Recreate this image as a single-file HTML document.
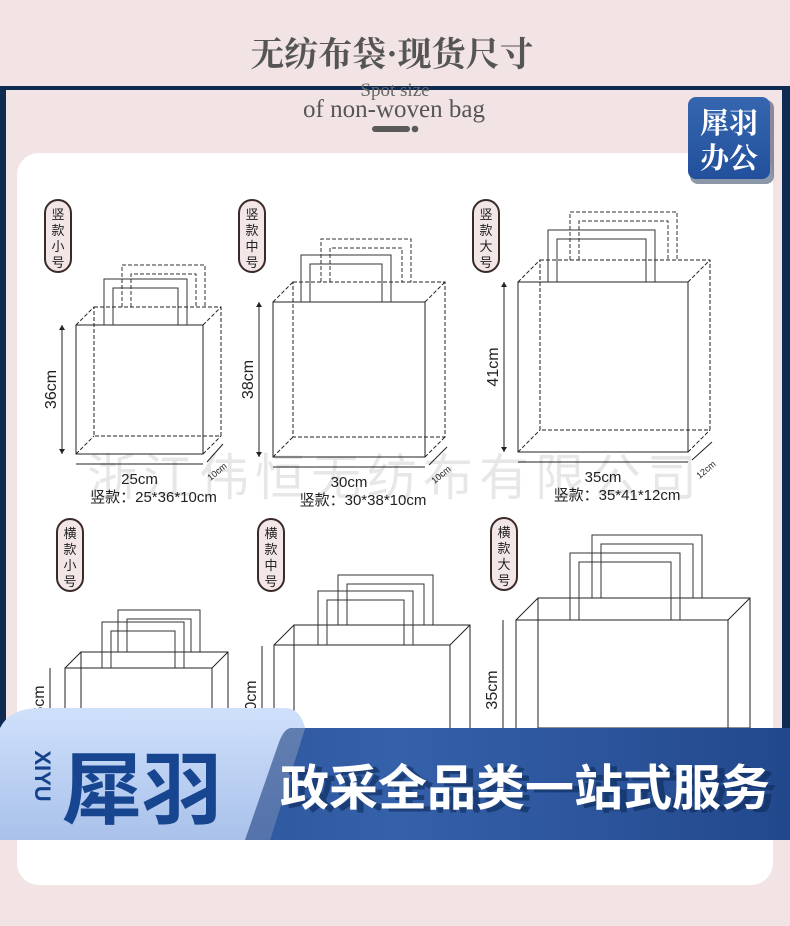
<!DOCTYPE html>
<html><head><meta charset="utf-8"><style>
body{margin:0;width:790px;height:926px;overflow:hidden;background:#f2e4e4;font-family:"Liberation Sans","Noto Sans CJK SC",sans-serif}
</style></head><body>
<svg id="s" width="790" height="926" viewBox="0 0 790 926" xmlns="http://www.w3.org/2000/svg" style="position:absolute;left:0;top:0">
<defs>
<linearGradient id="bl" x1="0" y1="0" x2="1" y2="0"><stop offset="0" stop-color="#234a8e"/><stop offset="0.5" stop-color="#3561aa"/><stop offset="1" stop-color="#22488c"/></linearGradient>
<linearGradient id="lt" x1="0" y1="0" x2="0" y2="1"><stop offset="0" stop-color="#cfe0fb"/><stop offset="1" stop-color="#a9c1ea"/></linearGradient>
<linearGradient id="bd" x1="0" y1="0" x2="0" y2="1"><stop offset="0" stop-color="#3766b0"/><stop offset="1" stop-color="#22509c"/></linearGradient>
</defs>
<rect x="0" y="0" width="790" height="926" fill="#f2e4e4"/>
<rect x="0" y="86" width="790" height="754" fill="#0f2b52"/>
<rect x="6" y="90" width="776" height="760" fill="#f2e4e4"/>
<rect x="17" y="153" width="756" height="732" rx="22" fill="#fff"/>
<text x="392" y="66" text-anchor="middle" font-family="'Noto Serif CJK SC',serif" font-size="34" font-weight="bold" fill="#555">无纺布袋·现货尺寸</text>
<text x="395" y="96" text-anchor="middle" font-family="'Liberation Serif',serif" font-size="19" fill="#666">Spot size</text>
<text x="394" y="117" text-anchor="middle" font-family="'Liberation Serif',serif" font-size="25" fill="#555">of non-woven bag</text>
<rect x="372" y="126" width="38" height="6" rx="3" fill="#5a5a5a"/><circle cx="415" cy="129" r="3.3" fill="#5a5a5a"/>
<rect x="690" y="100" width="84" height="84" rx="8" fill="#1b2f55" opacity="0.5"/>
<rect x="688" y="97" width="82" height="82" rx="8" fill="url(#bd)"/>
<text x="729" y="133" text-anchor="middle" font-family="'Noto Serif CJK SC',serif" font-size="29" font-weight="bold" fill="#fff">犀羽</text>
<text x="729" y="168" text-anchor="middle" font-family="'Noto Serif CJK SC',serif" font-size="29" font-weight="bold" fill="#fff">办公</text>
<g id="bags"></g>
<text x="395" y="495" text-anchor="middle" font-size="50" fill="#000" opacity="0.09" letter-spacing="6">浙江伟恒无纺布有限公司</text>
<rect x="0" y="728" width="790" height="112" fill="url(#bl)"/>
<path d="M0 728 Q10 708 40 708 L285 708 Q300 708 305 728 L270 840 L0 840 Z" fill="url(#lt)"/>
<path d="M305 728 L290 728 Q283 730 278 745 L245 840 L270 840 Z" fill="#1c3f80" opacity="0.6"/>
<text transform="translate(35,776) rotate(90)" font-size="22" fill="#15418a" text-anchor="middle" font-weight="bold">XIYU</text>
<text x="62" y="818" font-size="80" font-weight="bold" fill="#17458f">犀羽</text>
<text x="775" y="805" text-anchor="end" font-size="49" font-weight="bold" fill="#0d2a5a" opacity="0.6" transform="translate(2,3)">政采全品类一站式服务</text>
<text x="770" y="805" text-anchor="end" font-size="49" font-weight="bold" fill="#fff">政采全品类一站式服务</text>
</svg>
<script>
var g=document.getElementById('bags'),h='';
function L(a,b,c,d,dash,col){h+='<line x1="'+a+'" y1="'+b+'" x2="'+c+'" y2="'+d+'" stroke="'+(col||'#222')+'" stroke-width="1"'+(dash?' stroke-dasharray="4,2"':'')+'/>';}
function R(x,y,w,hh,dash){h+='<rect x="'+x+'" y="'+y+'" width="'+w+'" height="'+hh+'" fill="none" stroke="#222" stroke-width="1"'+(dash?' stroke-dasharray="4,2"':'')+'/>';}
function H(x,y,w,top,t,dash){
 h+='<path d="M'+x+' '+y+' V'+top+' H'+(x+w)+' V'+y+' M'+(x+t)+' '+y+' V'+(top+t)+' H'+(x+w-t)+' V'+y+'" fill="none" stroke="#333" stroke-width="1"'+(dash?' stroke-dasharray="4,2"':'')+'/>';}
function T(x,y,s,fs,an,rot){h+='<text x="'+x+'" y="'+y+'" font-size="'+fs+'" fill="#222" text-anchor="'+(an||'middle')+'"'+(rot?' transform="rotate('+rot+' '+x+' '+y+')"':'')+'>'+s+'</text>';}
function badge(x,y,txt){h+='<rect x="'+x+'" y="'+y+'" width="26" height="72" rx="13" fill="#f3e6e6" stroke="#3a2a2a" stroke-width="2"/>';for(var i=0;i<4;i++)T(x+13,y+19+i*16,txt[i],13);}
function bag(fx,fy,w,hh,d,hx,hw,htop,dash,wl,hl,dl,lab){
 var bx=fx+d,by=fy-d;
 H(bx+hx,by,hw,htop-d+4,9,dash);
 R(bx,by,w,hh,dash);
 L(fx,fy,bx,by,dash);L(fx+w,fy,bx+w,by,dash);L(fx,fy+hh,bx,by+hh,dash);L(fx+w,fy+hh,bx+w,by+hh,dash);
 h+='<rect x="'+fx+'" y="'+fy+'" width="'+w+'" height="'+hh+'" fill="none" stroke="#222"/>';
 H(fx+hx,fy,hw,htop,9,false);
 if(wl){
 L(fx-14,fy,fx-14,fy+hh);L(fx,fy+hh+10,fx+w,fy+hh+10);
 h+='<path d="M'+(fx-17)+' '+(fy+5)+' L'+(fx-14)+' '+fy+' L'+(fx-11)+' '+(fy+5)+'Z M'+(fx-17)+' '+(fy+hh-5)+' L'+(fx-14)+' '+(fy+hh)+' L'+(fx-11)+' '+(fy+hh-5)+'Z" fill="#222"/>';
 T(fx+w/2,fy+hh+30,wl,15);T(fx-20,fy+hh/2,hl,16,'middle',-90);
 L(fx+w+4,fy+hh+8,fx+w+d+2,fy+hh-10);T(fx+w+d-2,fy+hh+20,dl,9,'middle',-40);
 T(fx+w/2+14,fy+hh+48,lab,15);
 }}
badge(45,200,'竖款小号');badge(239,200,'竖款中号');badge(473,200,'竖款大号');
badge(57,519,'横款小号');badge(258,519,'横款中号');badge(491,518,'横款大号');
bag(76,325,127,129,18,28,83,279,true,'25cm','36cm','10cm','竖款：25*36*10cm');
bag(273,302,152,155,20,28,90,255,true,'30cm','38cm','10cm','竖款：30*38*10cm');
bag(518,282,170,170,22,30,107,230,true,'35cm','41cm','12cm','竖款：35*41*12cm');
bag(65,668,147,120,16,37,82,622,false);
bag(274,645,176,120,20,44,95,591,false);
bag(516,620,212,130,22,54,110,553,false);
L(50,668,50,740);T(44,705,'36cm',16,'middle',-90);
L(262,646,262,740);T(256,700,'30cm',16,'middle',-90);
L(503,620,503,740);T(497,690,'35cm',16,'middle',-90);
g.innerHTML=h;
</script>
</body></html>
